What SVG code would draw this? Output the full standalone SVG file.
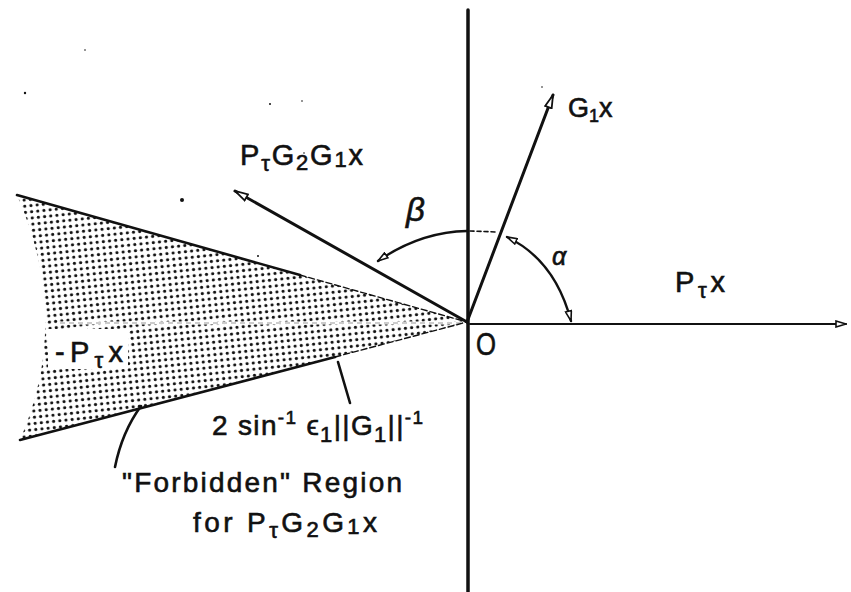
<svg xmlns="http://www.w3.org/2000/svg" width="851" height="592" viewBox="0 0 851 592">
<style>
  .lbl { font-family: "Liberation Sans", "DejaVu Sans", sans-serif; fill: #111; stroke: #111; stroke-width: 0.6; }
  .ln { stroke: #111; fill: none; stroke-linecap: round; }
  .sub { font-size: 22px; }
  .sup { font-size: 19px; }
</style>
<defs>
  <pattern id="dots" width="6.2" height="6.2" patternUnits="userSpaceOnUse" patternTransform="rotate(-6)">
    <circle cx="3.1" cy="3.1" r="1.6" fill="#111"/>
  </pattern>
  <marker id="headBig" viewBox="0 0 15 9" refX="14" refY="4.5" markerWidth="15" markerHeight="9" markerUnits="userSpaceOnUse" orient="auto-start-reverse">
    <path d="M1,1 L14,4.5 L1,8 Z" fill="#fff" stroke="#111" stroke-width="1.8"/>
  </marker>
  <marker id="headSmall" viewBox="0 0 12 8" refX="11" refY="4" markerWidth="12" markerHeight="8" markerUnits="userSpaceOnUse" orient="auto-start-reverse">
    <path d="M1,1 L11,4 L1,7 Z" fill="#fff" stroke="#111" stroke-width="1.6"/>
  </marker>
</defs>
<rect width="851" height="592" fill="#fff"/>

<g id="forbidden-region">
  <path d="M467,322 L17,195 Q72,320 20,440 Z" fill="url(#dots)"/>
  <line x1="60" y1="323" x2="462" y2="323" stroke="#fff" stroke-width="3"/>
  <line x1="60" y1="323" x2="462" y2="323" stroke="#999" stroke-width="1" stroke-dasharray="5 4"/>
  <rect x="48" y="329" width="80" height="40" fill="#fff"/>
  <path class="ln" d="M17,195 L300,275" stroke-width="2.6"/>
  <path class="ln" d="M300,275 L467,322" stroke-width="1.4" stroke-dasharray="6 3"/>
  <path class="ln" d="M20,440 L335,357" stroke-width="2.6"/>
  <path class="ln" d="M335,357 L467,322" stroke-width="1.4" stroke-dasharray="6 3"/>
</g>

<g id="axes">
  <line class="ln" x1="468" y1="10" x2="468" y2="592" stroke-width="3.5"/>
  <line class="ln" x1="470" y1="324" x2="846" y2="324" stroke-width="2" marker-end="url(#headSmall)"/>
</g>

<g id="connectors">
  <line id="vec-G1x" class="ln" x1="467" y1="322" x2="553" y2="95" stroke-width="3" marker-end="url(#headBig)"/>
  <line id="vec-PtG2G1x" class="ln" x1="467" y1="322" x2="235" y2="191" stroke-width="3" marker-end="url(#headBig)"/>
  <path id="arc-alpha" class="ln" d="M507,237 Q555,260 571,321" stroke-width="2.4" marker-start="url(#headSmall)" marker-end="url(#headSmall)"/>
  <path id="arc-beta" class="ln" d="M467,231 Q420,232 378,261" stroke-width="2.4" marker-end="url(#headSmall)"/>
  <path class="ln" d="M470,231 L497,232" stroke-width="1.6" stroke-dasharray="4 3"/>
  <line id="leader-angle" class="ln" x1="338" y1="362" x2="350" y2="403" stroke-width="2.6"/>
  <path id="leader-forbidden" class="ln" d="M141,406 Q122,432 115,467" stroke-width="2.6"/>
</g>

<g id="label-G1x">
  <text class="lbl" x="568" y="117" font-size="27">G<tspan font-size="18" dy="5">1</tspan><tspan dy="-5">x</tspan></text>
</g>
<g id="label-PtG2G1x">
  <text class="lbl" x="240" y="165" font-size="29" textLength="123">P<tspan class="sub" dy="6">τ</tspan><tspan dy="-6">G</tspan><tspan class="sub" dy="5">2</tspan><tspan dy="-5">G</tspan><tspan class="sub" dy="2">1</tspan><tspan dy="-2">x</tspan></text>
</g>
<g id="label-beta">
  <text class="lbl" x="406" y="221" font-size="33" font-style="italic">β</text>
</g>
<g id="label-alpha">
  <text class="lbl" x="552" y="265" font-size="25" font-style="italic">α</text>
</g>
<g id="label-Ptx">
  <text class="lbl" x="675" y="292" font-size="29" textLength="50">P<tspan class="sub" dy="6">τ</tspan><tspan dy="-6">x</tspan></text>
</g>
<g id="label-O">
  <text class="lbl" x="476" y="355" font-size="32" textLength="20" lengthAdjust="spacingAndGlyphs">O</text>
</g>
<g id="label-minusPtx">
  <text class="lbl" x="55" y="362" font-size="29" textLength="68">-P<tspan class="sub" dy="6">τ</tspan><tspan dy="-6">x</tspan></text>
</g>
<g id="label-angle">
  <text class="lbl" x="212" y="435" font-size="28" textLength="211">2 sin<tspan class="sup" dy="-11">-1</tspan><tspan dy="11"> ϵ</tspan><tspan class="sub" dy="7">1</tspan><tspan dy="-7">||G</tspan><tspan class="sub" dy="7">1</tspan><tspan dy="-7">||</tspan><tspan class="sup" dy="-11">-1</tspan></text>
</g>
<g id="label-forbidden">
  <text class="lbl" x="122" y="492" font-size="28" textLength="280">"Forbidden" Region</text>
  <text class="lbl" x="193" y="532" font-size="28" textLength="184">for P<tspan class="sub" dy="6">τ</tspan><tspan dy="-6">G</tspan><tspan class="sub" dy="5">2</tspan><tspan dy="-5">G</tspan><tspan class="sub" dy="2">1</tspan><tspan dy="-2">x</tspan></text>
</g>

<g id="specks" fill="#111">
  <circle cx="182" cy="200" r="2"/>
  <circle cx="258" cy="256" r="1"/>
  <circle cx="25" cy="93" r="1.2"/>
  <circle cx="85" cy="50" r="0.8"/>
  <circle cx="270" cy="104" r="1"/>
  <circle cx="302" cy="101" r="0.8"/>
  <circle cx="304" cy="153" r="0.8"/>
  <circle cx="542" cy="87" r="0.8"/>
</g>
</svg>
